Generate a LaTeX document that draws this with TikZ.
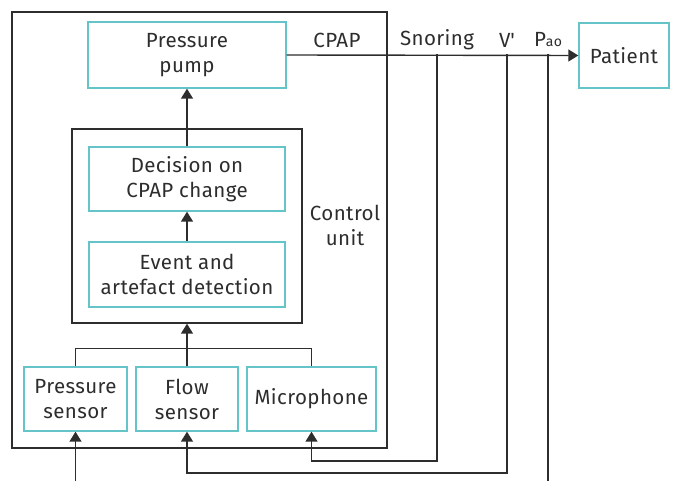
\documentclass[tikz,border=0pt]{standalone}
\usepackage{fontspec}
\setmainfont{Fira Sans}[LetterSpace=2]
\usetikzlibrary{arrows.meta}

\definecolor{boxteal}{RGB}{100,196,200}
\definecolor{ink}{RGB}{45,45,45}

\begin{document}
\begin{tikzpicture}[x=1pt,y=-1pt,
  line width=1.4pt, color=ink,
  every node/.style={font=\fontsize{20.5}{25}\selectfont, text=ink, align=center},
  blk/.style={draw=boxteal, line width=1.4pt, inner sep=0pt},
  arr/.style={-{Triangle[length=10pt,width=12pt]}}]
  \useasboundingbox (0,0) rectangle (673,481);

  % control unit
  \draw (12,12) rectangle (387,448);
  \node[draw, inner sep=0pt, minimum width=230, minimum height=194] (ctrl) at (187,226) {};
  \node at (345,225) (lctrl) {Control\\unit};

  \node[blk, minimum width=198, minimum height=66] (pump) at (187,55) {Pressure\\pump};
  \node[blk, minimum width=196, minimum height=64] (decide) at (187,179) {Decision on\\CPAP change};
  \node[blk, minimum width=196, minimum height=65] (event) at (187,274.5) {Event and\\artefact detection};

  \node[blk, minimum width=103, minimum height=64] (press) at (75.5,399) {Pressure\\sensor};
  \node[blk, minimum width=102, minimum height=64] (flow) at (187,399) {Flow\\sensor};
  \node[blk, minimum width=129, minimum height=64] (mic) at (311.5,399) {Microphone};

  \node[blk, minimum width=90, minimum height=65] (patient) at (624,55.5) {Patient};

  % signals
  \node at (337,40) (lcpap) {CPAP};
  \node at (437,40) (lsnore) {Snoring};
  \node at (507,40) (lflow) {V\textquotesingle};
  \node at (548,40) (lpao) {P{\fontsize{14}{14}\selectfont ao}};

  \coordinate (snore) at (437,54);
  \coordinate (vflow) at (507,54);
  \coordinate (pao) at (548,54);
  \coordinate (pin) at (75.5,481);
  \coordinate (paoend) at (548,481);

  \draw[arr] (pump.east) -- (patient.west);
  \draw[arr] (decide.north) -- (pump.south);
  \draw[arr] (event.north) -- (decide.south);
  \draw[arr] (flow.north) -- (ctrl.south);
  \draw (press.north) -- ++(0,-18) -| (mic.north);

  \draw[arr] (pin) -- (press.south);
  \draw[arr] (snore) -- ++(0,407) -| (mic.south);
  \draw[arr] (vflow) -- ++(0,419) -| (flow.south);
  \draw (pao) -- (paoend);
\end{tikzpicture}
\end{document}
